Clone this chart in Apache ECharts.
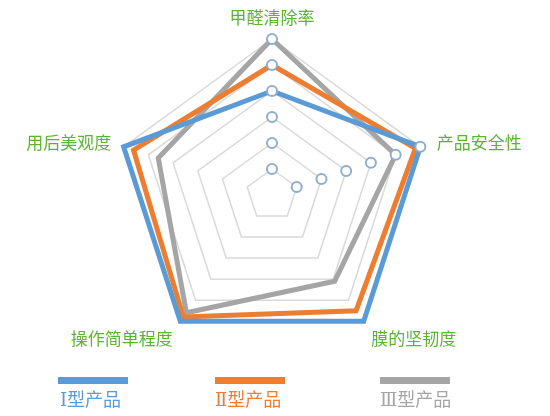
<!DOCTYPE html>
<html><head><meta charset="utf-8">
<script src="https://cdn.jsdelivr.net/npm/echarts@6/dist/echarts.min.js"></script>
<style>html,body{margin:0;padding:0;background:#fff}#c{width:550px;height:416px}</style>
</head><body><div id="c"></div>
<script>
// indicators, counter-clockwise from top
const indicators = ['甲醛清除率', '用后美观度', '操作简单程度', '膜的坚韧度', '产品安全性'];
const maxValue = 6;
const seriesNames = ['Ⅰ型产品', 'Ⅱ型产品', 'Ⅲ型产品'];
const typeI = [4, 6, 6, 6, 6];
const typeII = [5, 5.6, 5.8, 5.5, 5.8];
const typeIII = [6, 4.6, 5.6, 4.1, 5.0];
const markerLevels = [1, 2, 3, 4, 5, 6];
const markerAngles = [0, 72];

const colors = ['#5b9bd5', '#ed7d31', '#a5a5a5'];
const values = [typeI, typeII, typeIII];
const font = 'Noto Sans CJK SC';
const legendFont = "'DejaVu Serif', 'Noto Sans CJK SC'";
const CX = 272, CY = 195, R = 156;
const nameColor = '#5cb531';

const radarData = [2, 1, 0].map(i => ({
  name: seriesNames[i],
  value: values[i],
  lineStyle: { color: colors[i], width: 5, join: 'miter' },
  itemStyle: { color: colors[i] }
}));

const iconLeft = [58, 215, 380];
const textLeft = [60, 215, 380];
const legends = [];
seriesNames.forEach((n, i) => {
  legends.push({
    data: [{ name: n, itemStyle: { color: colors[i] } }],
    left: iconLeft[i], top: 377, padding: 0,
    icon: 'rect', itemWidth: 70, itemHeight: 7,
    formatter: () => '', selectedMode: false,
    textStyle: { fontSize: 1, lineHeight: 1 }
  });
  legends.push({
    data: [{ name: n, textStyle: { color: colors[i] } }],
    left: textLeft[i] - 5, top: 392, padding: 0,
    icon: 'none', itemWidth: 0, itemGap: 0, selectedMode: false,
    textStyle: { fontSize: 18, fontFamily: legendFont }
  });
});

const baseRich = { color: nameColor, fontSize: 17, fontFamily: font };
const chart = echarts.init(document.getElementById('c'), null, { renderer: 'canvas' });
chart.setOption({
  animation: false,
  backgroundColor: '#fff',
  legend: legends,
  radar: {
    center: [CX, CY], radius: R, startAngle: 90,
    shape: 'polygon', splitNumber: 6,
    indicator: indicators.map(n => ({ name: n, min: 0, max: maxValue })),
    nameGap: 13,
    axisName: {
      color: nameColor, fontSize: 17, fontFamily: font,
      formatter: function (name) {
        if (name === '操作简单程度' || name === '膜的坚韧度') return '{b|' + name + '}';
        if (name === '产品安全性') return '{r|' + name + '}';
        return '{n|' + name + '}';
      },
      rich: {
        n: Object.assign({}, baseRich),
        b: Object.assign({ padding: [14, 0, 0, 0] }, baseRich),
        r: Object.assign({ padding: [0, 0, 0, 4] }, baseRich)
      }
    },
    splitLine: { lineStyle: { color: '#d9d9d9', width: 1.5 } },
    splitArea: { show: false },
    axisLine: { show: false },
    axisTick: { show: false },
    axisLabel: { show: false }
  },
  polar: { center: [CX, CY], radius: R },
  angleAxis: { type: 'value', min: 0, max: 360, startAngle: 90, clockwise: true, show: false },
  radiusAxis: { type: 'value', min: 0, max: maxValue, show: false },
  series: [
    {
      type: 'radar',
      symbol: 'none',
      data: radarData,
      z: 2
    },
    {
      type: 'scatter',
      coordinateSystem: 'polar',
      silent: true,
      symbol: 'circle',
      symbolSize: 10,
      z: 10,
      itemStyle: { color: '#ffffff', borderColor: '#8eaed0', borderWidth: 2, opacity: 1 },
      data: markerAngles.flatMap(a => markerLevels.map(l => [l, a]))
    }
  ]
});
</script>
</body></html>
